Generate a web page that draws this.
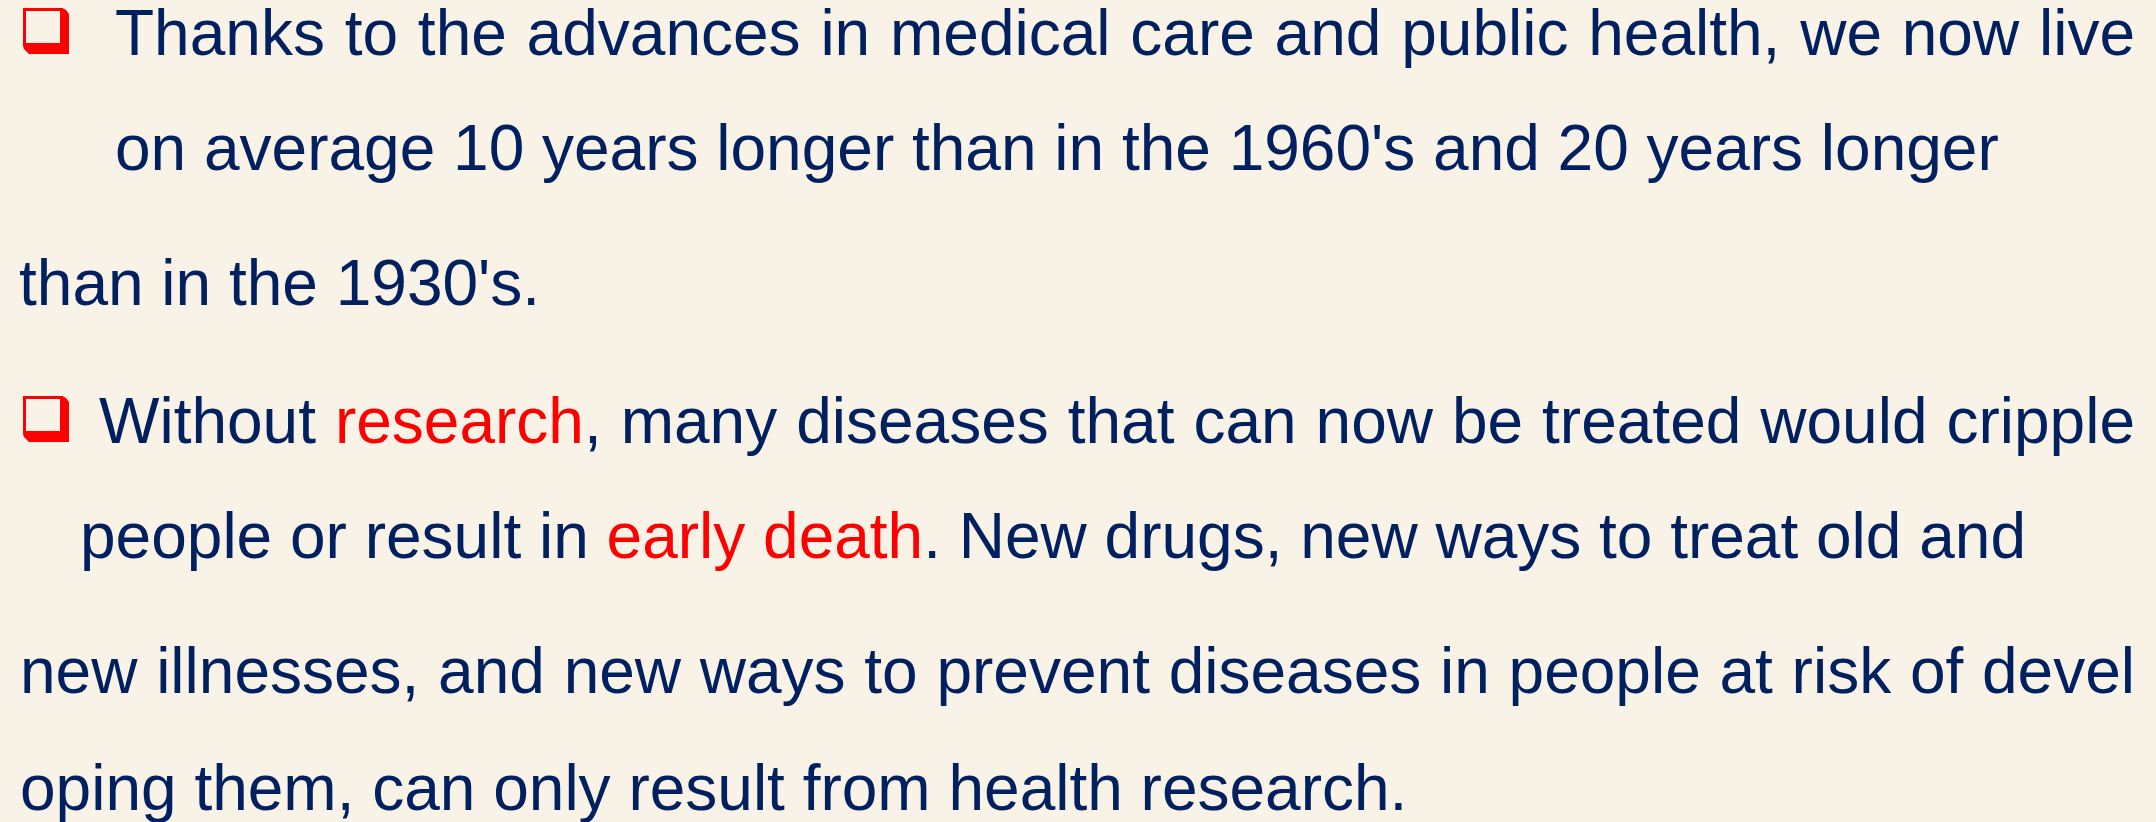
<!DOCTYPE html>
<html>
<head>
<meta charset="utf-8">
<script src="https://cdn.jsdelivr.net/npm/chart.js@4/dist/chart.umd.min.js"></script>
<style>
  html, body { margin:0; padding:0; }
  body { width:2156px; height:822px; overflow:hidden; background:#F9F2E7; position:relative;
         font-family:"Liberation Sans", Arial, sans-serif; color:#002060; }
  .ln { position:absolute; font-size:64px; line-height:64px; white-space:pre; }
  .just { white-space:normal; text-align:justify; text-align-last:justify; }
  .red { color:#FF0000; }
  .bullet { position:absolute; }
</style>
</head>
<body>
<script>
// Text content of the slide (segments: [text, highlighted?])
const line1 = [["Thanks to the advances in medical care and public health, we now live", false]];
const line2 = [["on average 10 years longer than in the 1960's and 20 years longer", false]];
const line3 = [["than in the 1930's.", false]];
const line4 = [["Without ", false], ["research", true], [", many diseases that can now be treated would cripple", false]];
const line5 = [["people or result in ", false], ["early death", true], [". New drugs, new ways to treat old and", false]];
const line6 = [["new illnesses, and new ways to prevent diseases in people at risk of devel", false]];
const line7 = [["oping them, can only result from health research.", false]];
const lines = [line1, line2, line3, line4, line5, line6, line7];

// Layout (kept separate from content)
const lineLeft  = [115, 115, 19, 99, 80, 20, 20];
const lineTop   = [1, 116, 251, 389, 504, 639, 756];
const lineRight = [2135, null, null, 2135, null, 2135, null];
const bulletAt  = [[23, 8], [23, 396]];

lines.forEach((segs, i) => {
  const d = document.createElement('div');
  d.className = 'ln';
  d.style.left = lineLeft[i] + 'px';
  d.style.top = lineTop[i] + 'px';
  if (lineRight[i]) { d.classList.add('just'); d.style.width = (lineRight[i] - lineLeft[i]) + 'px'; }
  segs.forEach(([t, hl]) => {
    const s = document.createElement('span');
    s.textContent = t;
    if (hl) s.className = 'red';
    d.appendChild(s);
  });
  document.body.appendChild(d);
});

bulletAt.forEach(([x, y]) => {
  const ns = 'http://www.w3.org/2000/svg';
  const svg = document.createElementNS(ns, 'svg');
  svg.setAttribute('class', 'bullet');
  svg.setAttribute('width', 47); svg.setAttribute('height', 47);
  svg.style.left = x + 'px'; svg.style.top = y + 'px';
  // shadow (thick bottom/right with chamfered corners)
  const sh = document.createElementNS(ns, 'polygon');
  sh.setAttribute('points', '0,38 39,38 39,0 43,2 46,6 46,46 6,46 1,41');
  sh.setAttribute('fill', '#FF0000');
  svg.appendChild(sh);
  const r = document.createElementNS(ns, 'rect');
  r.setAttribute('x', 1.5); r.setAttribute('y', 1.5); r.setAttribute('width', 37); r.setAttribute('height', 35);
  r.setAttribute('fill', '#F9F2E7'); r.setAttribute('stroke', '#FF0000'); r.setAttribute('stroke-width', 3);
  svg.appendChild(r);
  document.body.appendChild(svg);
});
</script>
</body>
</html>
